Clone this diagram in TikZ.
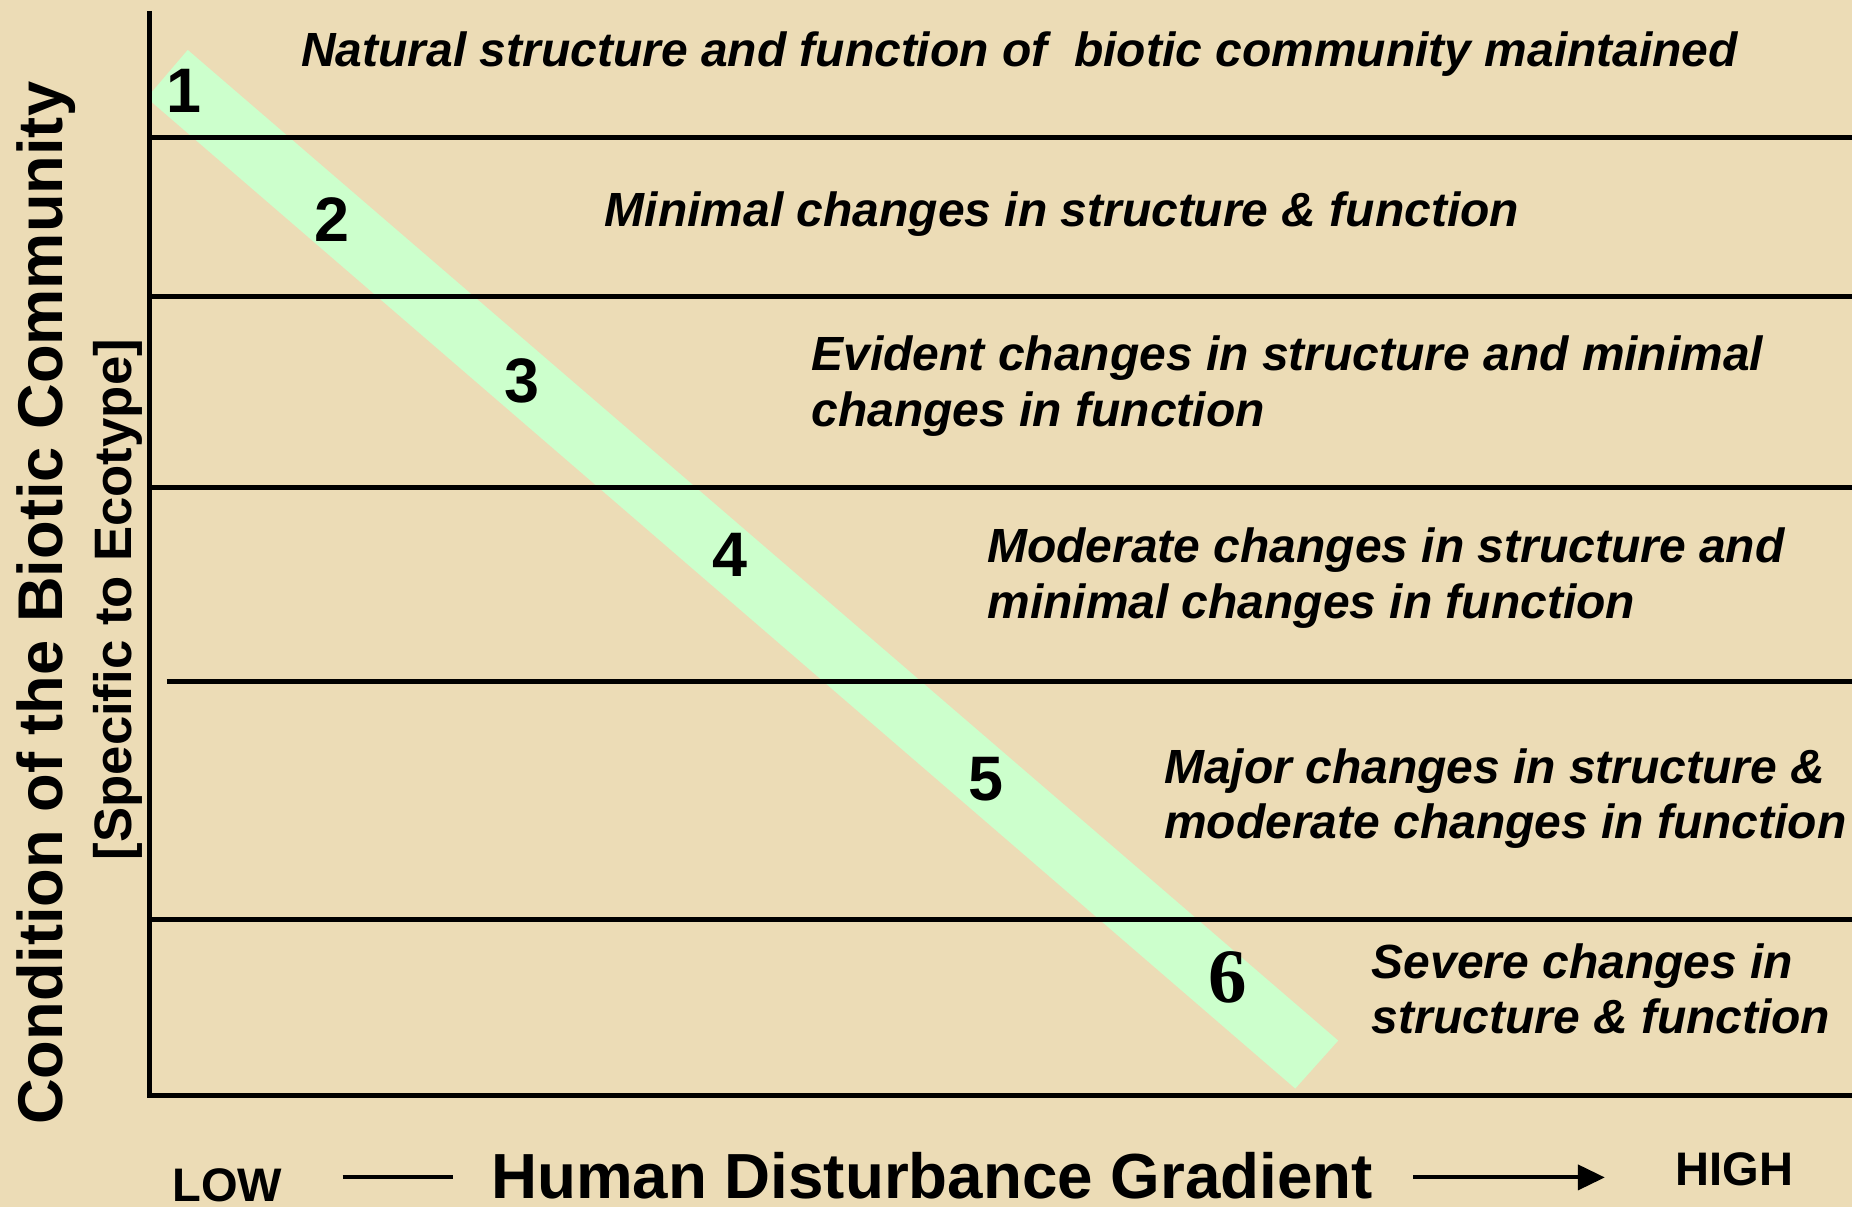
\documentclass[tikz,border=0pt]{standalone}
\usepackage{fontspec}
\setmainfont{Liberation Sans}
\newfontfamily\numserif{Liberation Serif}
\usetikzlibrary{arrows.meta}
\definecolor{parch}{RGB}{236,220,182}
\definecolor{bandgreen}{RGB}{204,255,204}
\tikzstyle{lvlT}=[anchor=base west, inner sep=0pt, align=left, font=\fontsize{13.66}{15.8}\selectfont\bfseries\itshape]
\tikzstyle{numS}=[inner sep=0pt, font=\fontsize{17.9}{20}\selectfont\bfseries]
\tikzstyle{axT}=[anchor=base west, inner sep=0pt, font=\fontsize{13.4}{16}\selectfont\bfseries]
\tikzstyle{bigT}=[anchor=base west, inner sep=0pt, font=\fontsize{18}{20}\selectfont\bfseries]
\tikzstyle{lvlLine}=[line width=0.05cm, draw=black]
\tikzstyle{gradLine}=[line width=0.04cm, draw=black]

\begin{document}
\begin{tikzpicture}[x=0.01cm, y=-0.01cm]
% background and band
\fill[parch] (0,0) rectangle (1854,1209);
\fill[bandgreen] (147,98) -- (188,50) -- (1340,1042) -- (1297,1090) -- cycle;
% level lines
\draw[lvlLine] (150,138) -- (1854,138);
\draw[lvlLine] (150,297) -- (1854,297);
\draw[lvlLine] (150,488) -- (1854,488);
\draw[lvlLine] (167,682) -- (1854,682);
\draw[lvlLine] (150,921) -- (1854,921);
\draw[lvlLine] (150,11) -- (150,1097) -- (1854,1097);
% numbers on the band
\draw (184,91) node[numS] (n1) {1};
\draw (332,220) node[numS] (n2) {2};
\draw (523,381) node[numS] (n3) {3};
\draw (731,556) node[numS] (n4) {4};
\draw (987,780) node[numS] (n5) {5};
\draw (1229,979) node[numS, font=\numserif\fontsize{21.9}{24}\selectfont\bfseries] (n6) {6};
% level texts (base = last line)
\draw (301,67) node[lvlT] (t1) {Natural structure and function of\ \ biotic community maintained};
\draw (605,227) node[lvlT] (t2) {Minimal changes in structure \& function};
\draw (812,427) node[lvlT] (t3) {Evident changes in structure and minimal\\changes in function};
\draw (988,619) node[lvlT] (t4) {Moderate changes in structure and\\minimal changes in function};
\draw (1165,840) node[lvlT] (t5) {Major changes in structure \&\\moderate changes in function};
\draw (1373,1035) node[lvlT] (t6) {Severe changes in\\structure \& function};
% axis labels
\draw (63,1127) node[bigT, rotate=90] (cond) {Condition of the Biotic Community};
\draw (132,862) node[bigT, rotate=90, font=\fontsize{15}{18}\selectfont\bfseries] (eco) {[Specific to Ecotype]};
\draw (172,1203) node[axT] (low) {LOW};
\draw (491,1200) node[bigT, font=\fontsize{18.15}{20}\selectfont\bfseries] (hdg) {Human Disturbance Gradient};
\draw (1677,1187) node[axT] (high) {HIGH};
\coordinate (lowR) at (343,1179);
\coordinate (hdgL) at (454,1179);
\coordinate (hdgR) at (1415,1179);
\coordinate (highL) at (1607,1179);
\path
    (lowR) edge[gradLine] (hdgL)
    (hdgR) edge[gradLine, -{Triangle[length=0.27cm, width=0.25cm]}] (highL)
;
\end{tikzpicture}
\end{document}
